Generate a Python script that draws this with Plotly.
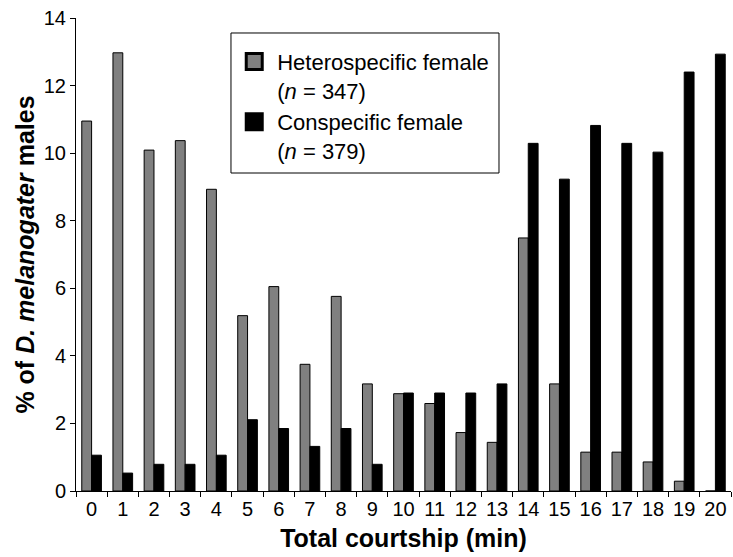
import plotly.graph_objects as go

# Total courtship duration (min) for each group of males
minutes = [str(m) for m in range(21)]

# Percentage of D. melanogaster males in each courtship-duration class
hetero_pct = [10.95, 12.97, 10.09, 10.37, 8.93, 5.19, 6.05, 3.75, 5.76, 3.17,
              2.88, 2.59, 1.73, 1.44, 7.49, 3.17, 1.15, 1.15, 0.86, 0.29, 0.00]
consp_pct = [1.06, 0.53, 0.79, 0.79, 1.06, 2.11, 1.85, 1.32, 1.85, 0.79,
             2.90, 2.90, 2.90, 3.17, 10.29, 9.23, 10.82, 10.29, 10.03, 12.40, 12.93]

hetero_name = "Heterospecific female<br>(<i>n</i> = 347)"
consp_name = "Conspecific female<br>(<i>n</i> = 379)"

y_ticks = [0, 2, 4, 6, 8, 10, 12, 14]

FONT = "Liberation Sans, Arial, Helvetica, sans-serif"
GREY = "#808080"

fig = go.Figure()
fig.add_trace(go.Bar(
    x=minutes, y=hetero_pct, name=hetero_name, showlegend=False,
    marker=dict(color=GREY, line=dict(color="black", width=1)),
))
fig.add_trace(go.Bar(
    x=minutes, y=consp_pct, name=consp_name, showlegend=False,
    marker=dict(color="black", line=dict(color="black", width=1)),
))

# larger square keys for the legend
for name, col in [(hetero_name, GREY), (consp_name, "black")]:
    fig.add_trace(go.Scatter(
        x=[None], y=[None], mode="markers", name=name,
        marker=dict(symbol="square", size=16, color=col,
                    line=dict(color="black", width=3)),
    ))

# legend frame, drawn separately so the entries get extra padding
fig.add_shape(
    type="rect", xref="paper", yref="paper",
    x0=0.2366, x1=0.6458, y0=0.6723, y1=0.9683,
    line=dict(color="black", width=1), fillcolor="white", layer="above",
)

fig.update_layout(
    width=733, height=557,
    margin=dict(l=76, r=2, t=18, b=66),
    paper_bgcolor="white", plot_bgcolor="white",
    barmode="group", bargap=0.37, bargroupgap=0,
    font=dict(family=FONT, size=20, color="black"),
    legend=dict(
        x=0.237, y=0.952, xanchor="left", yanchor="top",
        borderwidth=0, bgcolor="rgba(0,0,0,0)",
        font=dict(family=FONT, size=22, color="black"),
        valign="top", tracegroupgap=4, itemsizing="trace",
        itemwidth=36,
    ),
)

fig.update_xaxes(
    type="category", tickson="boundaries", ticks="outside", ticklen=5,
    tickangle=0,
    tickcolor="black", showline=True, linecolor="black", linewidth=1,
    showgrid=False, zeroline=False,
    tickfont=dict(family=FONT, size=20, color="black"),
    title=dict(text="<b>Total courtship (min)</b>", standoff=10,
               font=dict(family=FONT, size=25, color="black")),
)
fig.update_yaxes(
    range=[0, 14], tickvals=y_ticks, ticks="outside", ticklen=5,
    tickcolor="black", showline=True, linecolor="black", linewidth=1,
    showgrid=False, zeroline=False,
    tickfont=dict(family=FONT, size=20, color="black"),
    title=dict(text="<b>% of <i>D. melanogater</i> males</b>", standoff=2,
               font=dict(family=FONT, size=25, color="black")),
)

fig.write_html("out.html")
